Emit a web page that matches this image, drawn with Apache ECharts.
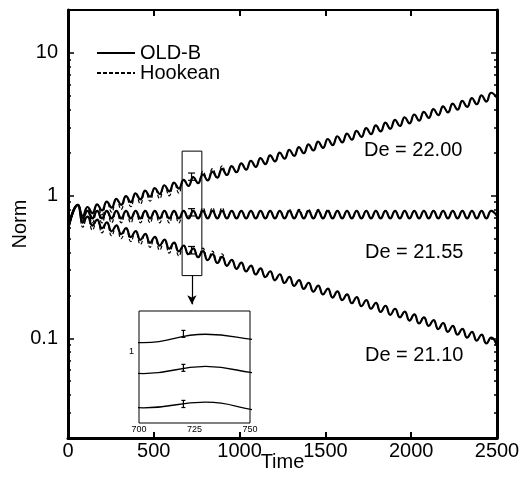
<!DOCTYPE html>
<html>
<head>
<meta charset="utf-8">
<script src="https://cdn.jsdelivr.net/npm/echarts@6/dist/echarts.min.js"></script>
<style>
html,body{margin:0;padding:0;background:#fff;}
#chart{width:521px;height:480px;}
</style>
</head>
<body>
<div id="chart"></div>
<script>
// time of each read point (peaks / troughs of the oscillation)
var time = [0,58,86,114,142,170,198,226,254,282,310,338,366,394,422,450,478,506,534,562,590,618,646,674,702,730,758,786,814,842,870,898,926,954,982,1010,1038,1066,1094,1122,1150,1178,1206,1234,1262,1290,1318,1346,1374,1402,1430,1458,1486,1514,1542,1570,1598,1626,1654,1682,1710,1738,1766,1794,1822,1850,1878,1906,1934,1962,1990,2018,2046,2074,2102,2130,2158,2186,2214,2242,2270,2298,2326,2354,2382,2410,2438,2466,2500];

// De = 22.00
var de2200 = [0.58,0.86,0.722,0.832,0.754,0.869,0.788,0.909,0.824,0.949,0.861,0.992,0.899,1.036,0.940,1.083,0.982,1.131,1.026,1.182,1.072,1.235,1.120,1.291,1.170,1.349,1.223,1.409,1.278,1.472,1.335,1.539,1.395,1.608,1.458,1.680,1.523,1.755,1.591,1.834,1.663,1.916,1.737,2.002,1.815,2.092,1.897,2.186,1.982,2.284,2.071,2.387,2.164,2.494,2.261,2.606,2.363,2.723,2.469,2.845,2.580,2.973,2.695,3.106,2.816,3.246,2.943,3.391,3.075,3.543,3.213,3.703,3.357,3.869,3.508,4.042,3.665,4.224,3.830,4.414,4.002,4.612,4.182,4.819,4.369,5.035,4.565,5.261,4.85];
var de2200Hk = [0.58,0.86,0.671,0.832,0.701,0.869,0.733,0.909,0.766,0.949,0.801,0.992,0.836,1.036,0.874,1.083,0.913,1.131,0.954,1.182,0.997,1.235,1.042,1.291,1.170,1.349,1.223,1.479,1.278,1.546,1.335,1.616,1.395,1.608,1.458,1.680,1.523,1.755,1.591,1.834,1.663,1.916,1.737,2.002,1.815,2.092,1.897,2.186,1.982,2.284,2.071,2.387,2.164,2.494,2.261,2.606,2.363,2.723,2.469,2.845,2.580,2.973,2.695,3.106,2.816,3.246,2.943,3.391,3.075,3.543,3.213,3.703,3.357,3.869,3.508,4.042,3.665,4.224,3.830,4.414,4.002,4.612,4.182,4.819,4.369,5.035,4.565,5.261,4.85];

// De = 21.55
var de2155 = [0.58,0.86,0.693,0.782,0.693,0.782,0.693,0.782,0.693,0.782,0.693,0.782,0.693,0.782,0.693,0.782,0.693,0.782,0.693,0.782,0.693,0.782,0.693,0.782,0.693,0.782,0.693,0.782,0.693,0.782,0.693,0.782,0.693,0.782,0.693,0.782,0.693,0.782,0.693,0.782,0.693,0.782,0.693,0.782,0.693,0.782,0.693,0.782,0.693,0.782,0.693,0.782,0.693,0.782,0.693,0.782,0.693,0.782,0.693,0.782,0.693,0.782,0.693,0.782,0.693,0.782,0.693,0.782,0.693,0.782,0.693,0.782,0.693,0.782,0.693,0.782,0.693,0.782,0.693,0.782,0.693,0.782,0.693,0.782,0.693,0.782,0.693,0.782,0.72];
var de2155Hk = [0.58,0.86,0.645,0.782,0.645,0.782,0.645,0.782,0.645,0.782,0.645,0.782,0.645,0.782,0.645,0.782,0.645,0.782,0.645,0.782,0.645,0.782,0.645,0.782,0.693,0.782,0.693,0.821,0.693,0.821,0.693,0.821,0.693,0.782,0.693,0.782,0.693,0.782,0.693,0.782,0.693,0.782,0.693,0.782,0.693,0.800,0.693,0.800,0.693,0.800,0.693,0.800,0.693,0.800,0.693,0.782,0.693,0.782,0.693,0.782,0.693,0.782,0.693,0.782,0.693,0.782,0.693,0.782,0.693,0.782,0.693,0.782,0.693,0.782,0.693,0.782,0.693,0.782,0.693,0.782,0.693,0.782,0.693,0.782,0.693,0.782,0.693,0.782,0.72];

// De = 21.10
var de2110 = [0.58,0.86,0.646,0.712,0.617,0.679,0.589,0.649,0.562,0.619,0.537,0.591,0.512,0.564,0.489,0.539,0.467,0.514,0.446,0.491,0.425,0.469,0.406,0.447,0.388,0.427,0.370,0.408,0.353,0.389,0.337,0.372,0.322,0.355,0.307,0.339,0.294,0.323,0.280,0.309,0.268,0.295,0.255,0.281,0.244,0.269,0.233,0.256,0.222,0.245,0.212,0.234,0.203,0.223,0.193,0.213,0.185,0.203,0.176,0.194,0.168,0.185,0.161,0.177,0.153,0.169,0.146,0.161,0.140,0.154,0.133,0.147,0.127,0.140,0.122,0.134,0.116,0.128,0.111,0.122,0.106,0.1165,0.101,0.111,0.0964,0.106,0.0919,0.101,0.0885];
var de2110Hk = [0.58,0.86,0.601,0.712,0.574,0.679,0.548,0.649,0.523,0.619,0.499,0.591,0.476,0.564,0.455,0.539,0.434,0.514,0.415,0.491,0.395,0.469,0.378,0.447,0.388,0.427,0.370,0.428,0.353,0.408,0.337,0.391,0.322,0.355,0.307,0.339,0.294,0.323,0.280,0.309,0.268,0.295,0.255,0.281,0.244,0.269,0.233,0.256,0.222,0.245,0.212,0.234,0.203,0.223,0.193,0.213,0.185,0.203,0.176,0.194,0.168,0.185,0.161,0.177,0.153,0.169,0.146,0.161,0.140,0.154,0.133,0.147,0.127,0.140,0.122,0.134,0.116,0.128,0.111,0.122,0.106,0.1165,0.101,0.111,0.0964,0.106,0.0919,0.101,0.0885];

// error bars at t = 720
var errTime = [720,720,720];
var errLow = [1.28,0.72,0.39];
var errHigh = [1.44,0.81,0.44];

// zoom box and arrow
var boxT = [665,780];
var boxY = [0.275,2.05];
var arrowT = 722;
var arrowY = [0.275,0.173];

// ticks
var yMajor = [0.1,1,10];
var yMinor = [0.02,0.03,0.04,0.05,0.06,0.07,0.08,0.09,0.2,0.3,0.4,0.5,0.6,0.7,0.8,0.9,2,3,4,5,6,7,8,9,20];
var insetYLabel = [1];

var FONT = 'Liberation Sans, Arial, Helvetica, sans-serif';

function pairs(ys){
	var out = [];
	for(var i=0;i<time.length;i++){
		out.push([time[i], ys[i]]);
	}
	return out;
}

function errData(){
	var out = [];
	for(var i=0;i<errTime.length;i++){
		out.push([errTime[i], errLow[i], errHigh[i]]);
	}
	return out;
}

// I-beam error bar
function errItem(cap){
	return function(params, api){
		var lo = api.coord([api.value(0), api.value(1)]);
		var hi = api.coord([api.value(0), api.value(2)]);
		var st = {stroke:'#000', lineWidth:1.2};
		return {
			type:'group',
			children:[
				{type:'line', shape:{x1:lo[0],y1:lo[1],x2:hi[0],y2:hi[1]}, style:st},
				{type:'line', shape:{x1:hi[0]-cap,y1:hi[1],x2:hi[0]+cap,y2:hi[1]}, style:st},
				{type:'line', shape:{x1:lo[0]-cap,y1:lo[1],x2:lo[0]+cap,y2:lo[1]}, style:st}
			]
		};
	};
}

function logAxis(pos, opt){
	var a = {
		type:'log', gridIndex:0, position:pos, min:0.02, max:20, logBase:10,
		splitLine:{show:false},
		axisLine:{show:opt.line, lineStyle:{color:'#000', width:3}},
		axisTick:{show:true, inside:true, length:opt.len, customValues:opt.ticks, lineStyle:{color:'#000', width:1.5}},
		axisLabel:{show:opt.label, customValues:yMajor, margin:10, fontSize:20, color:'#000', fontFamily:FONT}
	};
	return a;
}

var myChart = echarts.init(document.getElementById('chart'));

var seriesList = [];
var hk = [de2200Hk, de2155Hk, de2110Hk];
var ob = [de2200, de2155, de2110];
for(var k=0;k<3;k++){
	seriesList.push({
		name:'Hookean', type:'line', xAxisIndex:0, yAxisIndex:0, data:pairs(hk[k]),
		symbol:'none', smooth:0.5, clip:true, color:'#000',
		lineStyle:{color:'#000', width:1.2, type:[4,2]}, z:2
	});
}
for(var k=0;k<3;k++){
	seriesList.push({
		name:'OLD-B', type:'line', xAxisIndex:0, yAxisIndex:0, data:pairs(ob[k]),
		symbol:'none', smooth:0.5, clip:true, color:'#000',
		lineStyle:{color:'#000', width:2.2}, z:3
	});
}
// error bars on main plot, plus box and arrow
seriesList.push({
	type:'custom', xAxisIndex:0, yAxisIndex:0, data:errData(), renderItem:errItem(3.5), z:4,
	markArea:{
		silent:true,
		itemStyle:{color:'rgba(0,0,0,0)', borderColor:'#000', borderWidth:1},
		data:[[{coord:[boxT[0], boxY[0]]},{coord:[boxT[1], boxY[1]]}]]
	},
	markLine:{
		silent:true, symbol:['none','arrow'], symbolSize:[7,9],
		label:{show:false},
		lineStyle:{color:'#000', width:1.2, type:'solid'},
		data:[[{coord:[arrowT, arrowY[0]]},{coord:[arrowT, arrowY[1]]}]]
	}
});
// inset
for(var k=0;k<3;k++){
	seriesList.push({
		type:'line', xAxisIndex:2, yAxisIndex:4, data:pairs(ob[k]),
		symbol:'none', smooth:0.5, clip:true, color:'#000',
		lineStyle:{color:'#000', width:1.3}, z:5
	});
}
seriesList.push({
	type:'custom', xAxisIndex:2, yAxisIndex:4, data:errData(), renderItem:errItem(2), z:6
});

function plainNum(v){
	return String(v);
}

var option = {
	animation:false,
	backgroundColor:'#fff',
	grid:[
		{left:68, top:10, right:24, bottom:42, containLabel:false, outerBoundsMode:'none'},
		{left:139, top:311, width:111, height:112, containLabel:false, outerBoundsMode:'none', show:true, backgroundColor:'#fff', borderColor:'#000', borderWidth:1, z:3}
	],
	legend:{
		orient:'vertical', left:96, top:43, padding:0, itemGap:0, itemWidth:38, itemHeight:16,
		data:['OLD-B','Hookean'], selectedMode:false,
		itemStyle:{opacity:0},
		textStyle:{fontSize:20, color:'#000', fontFamily:FONT, lineHeight:17}
	},
	xAxis:[
		{
			type:'value', gridIndex:0, position:'bottom', min:0, max:2500, interval:500,
			name:'Time', nameLocation:'middle', nameGap:14, nameMoveOverlap:false,
			nameTextStyle:{fontSize:20, color:'#000', fontFamily:FONT},
			splitLine:{show:false},
			axisLine:{lineStyle:{color:'#000', width:3}},
			axisTick:{inside:true, length:6, lineStyle:{color:'#000', width:2}},
			axisLabel:{margin:3, fontSize:20, color:'#000', fontFamily:FONT, formatter:plainNum}
		},
		{
			type:'value', gridIndex:0, position:'top', min:0, max:2500, interval:500,
			splitLine:{show:false},
			axisLine:{lineStyle:{color:'#000', width:2}},
			axisTick:{inside:true, length:6, lineStyle:{color:'#000', width:2}},
			axisLabel:{show:false}
		},
		{
			type:'value', gridIndex:1, min:700, max:750, interval:25,
			splitLine:{show:false},
			axisLine:{show:false},
			axisTick:{show:false},
			axisLabel:{margin:2, fontSize:9, color:'#000', fontFamily:FONT, formatter:plainNum}
		}
	],
	yAxis:[
		(function(){
			var a = logAxis('left', {line:true, len:6, ticks:yMajor, label:true});
			a.name = 'Norm';
			a.nameLocation = 'middle';
			a.nameGap = 38;
			a.nameMoveOverlap = false;
			a.nameTextStyle = {fontSize:20, color:'#000', fontFamily:FONT};
			return a;
		})(),
		logAxis('left', {line:false, len:3, ticks:yMinor, label:false}),
		logAxis('right', {line:true, len:6, ticks:yMajor, label:false}),
		logAxis('right', {line:false, len:3, ticks:yMinor, label:false}),
		{
			type:'log', gridIndex:1, min:0.3, max:2,
			splitLine:{show:false},
			axisLine:{show:false},
			axisTick:{show:false},
			axisLabel:{customValues:insetYLabel, margin:5, fontSize:9, color:'#000', fontFamily:FONT}
		}
	],
	graphic:[
		{type:'text', left:364, top:140, style:{text:'De = 22.00', font:'20px ' + FONT, fill:'#000'}},
		{type:'text', left:365, top:242, style:{text:'De = 21.55', font:'20px ' + FONT, fill:'#000'}},
		{type:'text', left:365, top:345, style:{text:'De = 21.10', font:'20px ' + FONT, fill:'#000'}}
	],
	series:seriesList
};
myChart.setOption(option);
</script>
</body>
</html>
